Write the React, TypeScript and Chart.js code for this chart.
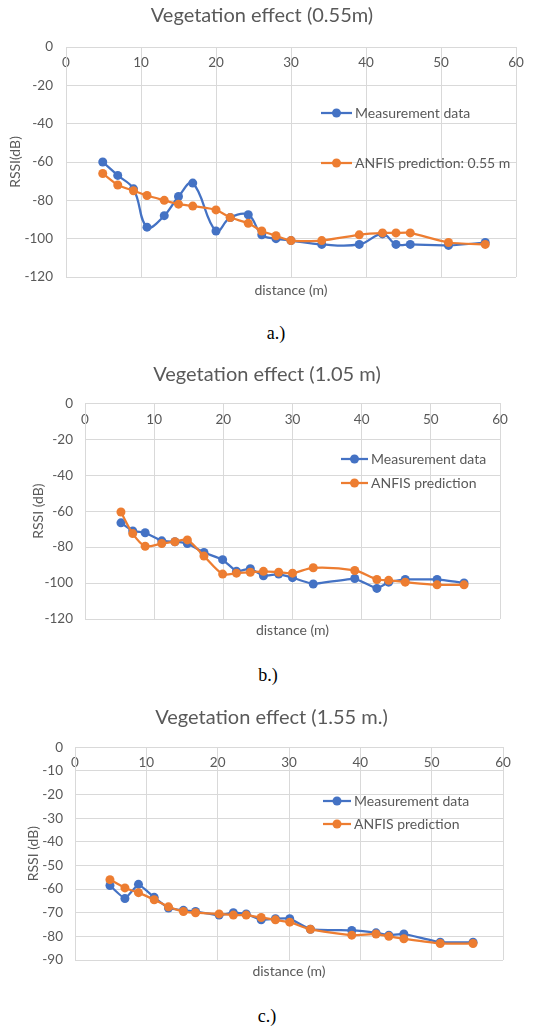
import React, { useEffect, useRef } from "react";
import { Chart, registerables } from "chart.js";

Chart.register(...registerables);

const FONT = "Lato";
const TEXT = "#595959";
const GRID = "#d9d9d9";
const BLUE = "#4472C4";
const ORANGE = "#ED7D31";

// ---- Chart a.) 0.55 m ----
const titleA = "Vegetation effect (0.55m)";
const distA = [4.9, 6.9, 9.0, 10.8, 13.1, 15.0, 16.9, 20.0, 21.9, 24.3, 26.1, 28.0, 30.0, 34.1, 39.1, 42.2, 44.0, 45.9, 51.0, 55.9];
const measA = [-60, -67, -74, -94, -88, -78, -71, -96, -89, -87.5, -98, -100, -101, -103, -103, -97.5, -103, -103, -103.5, -102];
const anfisA = [-66, -72, -75, -77.5, -80, -82, -83, -85, -89, -92, -96, -98.5, -101, -101, -98, -97, -97, -97, -102, -103];
const labelsA = ["Measurement data", "ANFIS prediction: 0.55 m"];

// ---- Chart b.) 1.05 m ----
const titleB = "Vegetation effect (1.05 m)";
const distB = [5.2, 6.9, 8.7, 11.1, 13.0, 14.8, 17.2, 19.9, 21.9, 23.9, 25.8, 28.0, 30.0, 33.0, 39.0, 42.2, 43.9, 46.3, 50.9, 54.8];
const measB = [-66.5, -71, -72, -76.5, -77, -78, -83, -87, -93.5, -92, -96, -95, -97, -100.5, -97.5, -103, -99.5, -98, -98, -100];
const anfisB = [-60.5, -72.5, -79.5, -78, -77, -76, -85, -95, -94.5, -94, -93.5, -94, -94.5, -91.5, -93, -98, -98.5, -99.5, -101, -101];
const labelsB = ["Measurement data", "ANFIS prediction"];

// ---- Chart c.) 1.55 m ----
const titleC = "Vegetation effect (1.55 m.)";
const distC = [4.9, 7.0, 8.9, 11.1, 13.1, 15.2, 16.9, 20.2, 22.2, 24.0, 26.1, 28.1, 30.1, 33.0, 38.8, 42.2, 44.0, 46.1, 51.2, 55.8];
const measC = [-58.5, -64, -58, -63.5, -68, -69, -69.5, -71, -70, -70.5, -73, -72.5, -72.5, -77, -77.5, -78.5, -79.5, -79, -82.5, -82.5];
const anfisC = [-56, -59.5, -61.5, -64.5, -67.5, -69.5, -70, -70.5, -71, -71, -72, -73, -74, -77, -79.5, -79, -80, -81, -83, -83];
const labelsC = ["Measurement data", "ANFIS prediction"];

const legendPlugin = {
  id: "inlineLegend",
  afterDraw(chart: any, _args: any, opts: any) {
    const { ctx } = chart;
    ctx.save();
    chart.data.datasets.forEach((ds: any, i: number) => {
      const y = opts.rows[i];
      ctx.strokeStyle = ds.borderColor;
      ctx.lineWidth = 2.25;
      ctx.beginPath();
      ctx.moveTo(opts.x1, y);
      ctx.lineTo(opts.x2, y);
      ctx.stroke();
      ctx.fillStyle = ds.borderColor;
      ctx.beginPath();
      ctx.arc((opts.x1 + opts.x2) / 2, y, 4.5, 0, Math.PI * 2);
      ctx.fill();
      ctx.fillStyle = TEXT;
      ctx.font = `14px ${FONT}`;
      ctx.textBaseline = "middle";
      ctx.textAlign = "left";
      ctx.fillText(ds.label, opts.tx, y);
    });
    ctx.restore();
  },
};

type Spec = {
  title: string;
  dist: number[];
  meas: number[];
  anfis: number[];
  labels: string[];
  yTitle: string;
  yMin: number;
  yStep: number;
  tensionMeas: number;
  tensionAnfis: number;
  padL: number;
  padR: number;
  titlePadTop: number;
  titlePadBottom: number;
  yWidth: number;
  yTickPad: number;
  yTitlePad: number;
  xTickPad: number;
  xbHeight: number;
  xbTitlePad: number;
  legend: { x1: number; x2: number; tx: number; rows: number[] };
};

function pts(xs: number[], ys: number[]) {
  return xs.map((x, i) => ({ x, y: ys[i] }));
}

function makeConfig(s: Spec): any {
  const tickFont = { family: FONT, size: 13.5, lineHeight: 1.2 };
  const titleFont = { family: FONT, size: 14, lineHeight: 1.2 };
  return {
    type: "line",
    data: {
      datasets: [
        {
          label: s.labels[0],
          data: pts(s.dist, s.meas),
          borderColor: BLUE,
          backgroundColor: BLUE,
          pointBackgroundColor: BLUE,
          pointBorderColor: BLUE,
          pointRadius: 4.5,
          pointBorderWidth: 0,
          borderWidth: 2.25,
          tension: s.tensionMeas,
          order: 1,
        },
        {
          label: s.labels[1],
          data: pts(s.dist, s.anfis),
          borderColor: ORANGE,
          backgroundColor: ORANGE,
          pointBackgroundColor: ORANGE,
          pointBorderColor: ORANGE,
          pointRadius: 4.5,
          pointBorderWidth: 0,
          borderWidth: 2.25,
          tension: s.tensionAnfis,
          order: 0,
        },
      ],
    },
    options: {
      animation: false,
      responsive: false,
      events: [],
      layout: { padding: { left: s.padL, right: s.padR, top: 0, bottom: 0 } },
      plugins: {
        legend: { display: false },
        tooltip: { enabled: false },
        title: {
          display: true,
          text: s.title,
          color: TEXT,
          font: { family: FONT, size: 20, weight: "normal", lineHeight: 1.2 },
          padding: { top: s.titlePadTop, bottom: s.titlePadBottom },
        },
        inlineLegend: s.legend,
      },
      scales: {
        x: {
          type: "linear",
          position: "top",
          min: 0,
          max: 60,
          afterFit: (sc: any) => {
            sc.height = 0;
          },
          ticks: {
            stepSize: 10,
            color: TEXT,
            font: tickFont,
            padding: s.xTickPad,
            mirror: true,
            maxRotation: 0,
            autoSkip: false,
          },
          grid: { color: GRID, lineWidth: 1, drawTicks: false },
          border: { display: true, color: GRID },
        },
        xb: {
          type: "linear",
          position: "bottom",
          min: 0,
          max: 60,
          afterFit: (sc: any) => {
            sc.height = s.xbHeight;
          },
          ticks: { display: false },
          grid: { display: false, drawTicks: false },
          border: { display: false },
          title: {
            display: true,
            text: "distance (m)",
            color: TEXT,
            font: titleFont,
            padding: { top: 0, bottom: s.xbTitlePad },
          },
        },
        y: {
          type: "linear",
          min: s.yMin,
          max: 0,
          afterFit: (sc: any) => {
            sc.width = s.yWidth;
          },
          ticks: { stepSize: s.yStep, color: TEXT, font: tickFont, padding: s.yTickPad },
          grid: { color: GRID, lineWidth: 1, drawTicks: false },
          border: { display: true, color: GRID },
          title: {
            display: true,
            text: s.yTitle,
            color: TEXT,
            font: titleFont,
            padding: { top: s.yTitlePad, bottom: 0 },
          },
        },
      },
    },
    plugins: [legendPlugin],
  };
}

const specA: Spec = {
  title: titleA,
  dist: distA,
  meas: measA,
  anfis: anfisA,
  labels: labelsA,
  yTitle: "RSSI(dB)",
  yMin: -120,
  yStep: 20,
  tensionMeas: 0.4,
  tensionAnfis: 0.2,
  padL: 8,
  padR: 23,
  titlePadTop: 4,
  titlePadBottom: 19,
  yWidth: 58,
  yTickPad: 13,
  yTitlePad: -1.4,
  xTickPad: 7.9,
  xbHeight: 28,
  xbTitlePad: 6.6,
  legend: { x1: 321, x2: 352, tx: 355, rows: [113, 163] },
};

const specB: Spec = {
  title: titleB,
  dist: distB,
  meas: measB,
  anfis: anfisB,
  labels: labelsB,
  yTitle: "RSSI (dB)",
  yMin: -120,
  yStep: 20,
  tensionMeas: 0.1,
  tensionAnfis: 0.3,
  padL: 34,
  padR: 39,
  titlePadTop: 8,
  titlePadBottom: 16.3,
  yWidth: 51,
  yTickPad: 12,
  yTitlePad: -4.4,
  xTickPad: 8.6,
  xbHeight: 25,
  xbTitlePad: 5.6,
  legend: { x1: 341, x2: 368, tx: 371, rows: [104, 128] },
};

const specC: Spec = {
  title: titleC,
  dist: distC,
  meas: measC,
  anfis: anfisC,
  labels: labelsC,
  yTitle: "RSSI (dB)",
  yMin: -90,
  yStep: 10,
  tensionMeas: 0.1,
  tensionAnfis: 0.15,
  padL: 40,
  padR: 36,
  titlePadTop: 11,
  titlePadBottom: 17.3,
  yWidth: 35,
  yTickPad: 12,
  yTitlePad: -15.4,
  xTickPad: 7.6,
  xbHeight: 25,
  xbTitlePad: 5.6,
  legend: { x1: 323, x2: 351, tx: 354, rows: [106, 129] },
};

function ChartCanvas({ spec, top, height }: { spec: Spec; top: number; height: number }) {
  const ref = useRef<HTMLCanvasElement | null>(null);
  useEffect(() => {
    if (!ref.current) return;
    const chart = new Chart(ref.current, makeConfig(spec));
    return () => chart.destroy();
  }, [spec]);
  return (
    <canvas
      ref={ref}
      width={539}
      height={height}
      style={{ position: "absolute", left: 0, top, width: 539, height }}
    />
  );
}

function Caption({ text, cx, cy }: { text: string; cx: number; cy: number }) {
  return (
    <div
      style={{
        position: "absolute",
        left: cx - 30,
        top: cy - 11,
        width: 60,
        height: 22,
        lineHeight: "22px",
        textAlign: "center",
        fontFamily: "'Liberation Serif', 'Times New Roman', serif",
        fontSize: 18,
        color: "#000",
      }}
    >
      {text}
    </div>
  );
}

export default function App() {
  return (
    <div
      style={{
        position: "absolute",
        left: 0,
        top: 0,
        width: 539,
        height: 1029,
        background: "#fff",
        overflow: "hidden",
      }}
    >
      <ChartCanvas spec={specA} top={0} height={305} />
      <Caption text="a.)" cx={276} cy={333} />
      <ChartCanvas spec={specB} top={355} height={289} />
      <Caption text="b.)" cx={268} cy={675} />
      <ChartCanvas spec={specC} top={695} height={290} />
      <Caption text="c.)" cx={267} cy={1016} />
    </div>
  );
}
